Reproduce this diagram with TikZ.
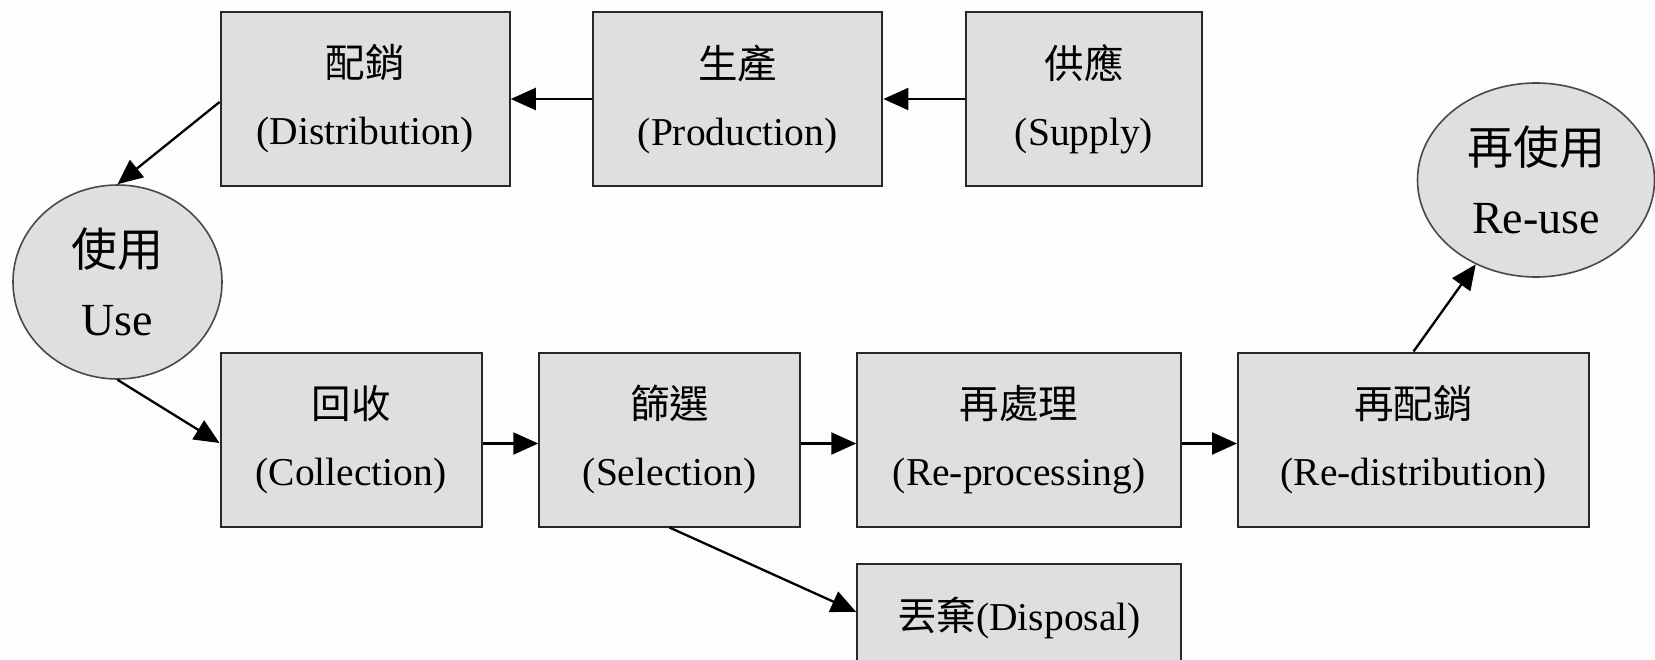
\documentclass[tikz,border=0pt]{standalone}
\usepackage{fontspec}
\setmainfont{Liberation Serif}
\newfontfamily\cjk{Noto Sans CJK TC}
\usetikzlibrary{arrows.meta,shapes.geometric}
\definecolor{boxfill}{RGB}{223,223,223}
\definecolor{edge}{RGB}{40,40,40}
\definecolor{paper}{RGB}{253,253,253}

\begin{document}
\begin{tikzpicture}[x=1pt,y=-1pt,
  stage/.style={draw=edge, line width=2pt, fill=boxfill, rectangle, inner sep=0pt,
    align=center, font=\fontsize{39.5}{67}\selectfont, minimum height=174pt},
  bubble/.style={draw=edge!85, line width=1.6pt, fill=boxfill, ellipse, inner sep=0pt,
    align=center, font=\fontsize{46}{69}\selectfont},
  flow/.style={-{Triangle[length=25pt,width=22pt]}, line width=2.3pt, black},
]
% canvas
\useasboundingbox (0,0) rectangle (1655,659);
\fill[paper] (0,0) rectangle (1655,659);

% forward chain
\node[stage, minimum width=289.2pt] (dist)   at (365.2,99)  {{\cjk 配銷}\\(Distribution)};
\node[stage, minimum width=289.4pt] (prod)   at (737.7,99)  {{\cjk 生產}\\(Production)};
\node[stage, minimum width=236.4pt] (supply) at (1084,99)   {{\cjk 供應}\\(Supply)};
\node[bubble, minimum width=209pt, minimum height=194pt] (use) at (117.5,282) {{\cjk 使用}\\Use};

% reverse chain
\node[stage, minimum width=261pt]   (coll)   at (351,439.5)   {{\cjk 回收}\\(Collection)};
\node[stage, minimum width=260.5pt] (sel)    at (669.5,439.5) {{\cjk 篩選}\\(Selection)};
\node[stage, minimum width=323.5pt] (reproc) at (1019,439.5)  {{\cjk 再處理}\\(Re-processing)};
\node[stage, minimum width=351pt]   (redist) at (1413.5,439.5){{\cjk 再配銷}\\(Re-distribution)};
\node[stage, minimum width=323.5pt, minimum height=108pt] (disp) at (1019,618) {{\cjk 丟棄}(Disposal)};
\node[bubble, minimum width=237pt, minimum height=194pt] (reuse) at (1536,180) {{\cjk 再使用}\\Re-use};

% connectors
\draw[flow] (supply.west) -- (prod.east);
\draw[flow] (prod.west) -- (dist.east);
\draw[flow] ([yshift=-3pt]dist.west) -- (use.north);
\draw[flow] (use.south) -- ([yshift=-3.5pt]coll.west);
\draw[flow] ([yshift=-4pt]coll.east) -- ([yshift=-4pt]sel.west);
\draw[flow] ([yshift=-4pt]sel.east) -- ([yshift=-4pt]reproc.west);
\draw[flow] ([yshift=-4pt]reproc.east) -- ([yshift=-4pt]redist.west);
\draw[flow] (sel.south) -- ([yshift=6pt]disp.west);
\draw[flow] (redist.north) -- (reuse);
\end{tikzpicture}
\end{document}
